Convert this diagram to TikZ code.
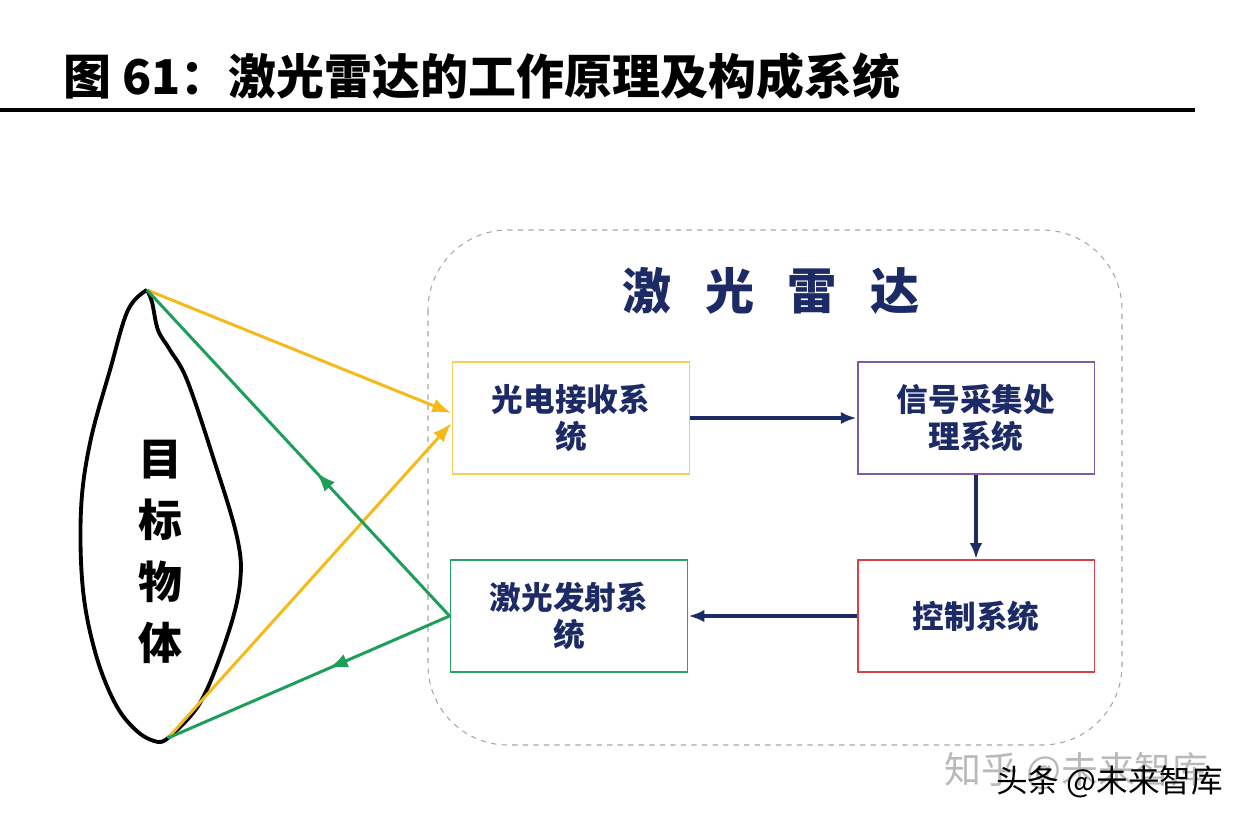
\documentclass[tikz,border=0pt]{standalone}
\usepackage{fontspec}
\setmainfont{Noto Sans CJK SC}
\usetikzlibrary{arrows.meta,decorations.markings}
\definecolor{navy}{HTML}{1C2A66}
\definecolor{recvc}{HTML}{F6CF5E}
\definecolor{procc}{HTML}{7E5AA8}
\definecolor{sendc}{HTML}{2AA36B}
\definecolor{ctrlc}{HTML}{D8404A}
\definecolor{beamy}{HTML}{F5BA1A}
\definecolor{beamg}{HTML}{1E9E5A}
\tikzset{
  sysbox/.style={draw, line width=1.1pt, minimum width=4.74cm, minimum height=2.24cm,
    align=center, text=navy, font=\fontsize{18}{21}\selectfont\bfseries},
  beam/.style={line width=1.7pt},
  flow/.style={navy, line width=2pt, -{Latex[length=9pt,width=7pt]}},
  midarrow/.style={postaction={decorate}, decoration={markings,
    mark=at position #1 with {\arrow{Latex[length=11pt,width=8pt]}}}}
}
\begin{document}
\begin{tikzpicture}[x=0.02cm,y=-0.02cm]
\useasboundingbox (0,0) rectangle (1244,822);
% Heading
\node[anchor=west, font=\fontsize{27.3}{28}\selectfont\bfseries] (title) at (57,76) {图 61：激光雷达的工作原理及构成系统};
\draw[line width=1.8pt] (0,110) -- (1195,110);
% Lidar frame
\draw[gray!70, dashed, line width=0.6pt, rounded corners=1.6cm] (428,230) rectangle (1122,745);
\node[text=navy, font=\fontsize{28}{28}\selectfont\bfseries] (lidar) at (771,291) {激\hspace{0.68em}光\hspace{0.68em}雷\hspace{0.68em}达};
\node[sysbox, draw=recvc] (rx) at (571,418) {光电接收系\\统};
\node[sysbox, draw=procc] (sp) at (976,418) {信号采集处\\理系统};
\node[sysbox, draw=sendc] (tx) at (569,616) {激光发射系\\统};
\node[sysbox, draw=ctrlc] (ctl) at (976,616) {控制系统};
\draw[flow] (rx.east) -- (sp.west);
\draw[flow] (sp.south) -- (ctl.north);
\draw[flow] (ctl.west) -- (tx.east);
% Target object
\coordinate (tip) at (147,290);
\coordinate (base) at (168,738);
\draw[line width=2.2pt, smooth, tension=0.6] plot coordinates {(147,290) (128,310) (110,370) (90,443) (81,510) (83,590) (96,655) (116,705) (138,732) (158,742) (168,738)};
\draw[line width=2.2pt, smooth, tension=0.6] plot coordinates {(147,290) (152,302) (158,330) (170,350) (187,380) (213,457) (237,537) (240,583) (227,637) (200,703) (168,738)};
\node[align=center, font=\fontsize{25}{35}\selectfont\bfseries] (target) at (160,552) {目\\标\\物\\体};
% Beams
\draw[beam, beamy, -{Latex[length=11pt,width=8pt]}] (tip) -- ([yshift=0.1cm]rx.west);
\draw[beam, beamy, -{Latex[length=11pt,width=8pt]}] (base) -- ([yshift=-0.1cm]rx.west);
\draw[beam, beamg, midarrow=0.44] (tx.west) -- (tip);
\draw[beam, beamg, midarrow=0.43] (tx.west) -- (base);
% Watermarks
\node[anchor=west, text=gray!55, font=\fontsize{21}{21}\selectfont] (wmzh) at (938,771) {知乎 @未来智库};
\node[anchor=west, font=\fontsize{18}{18}\selectfont] (wmtt) at (990,782) {头条 @未来智库};
\end{tikzpicture}
\end{document}
